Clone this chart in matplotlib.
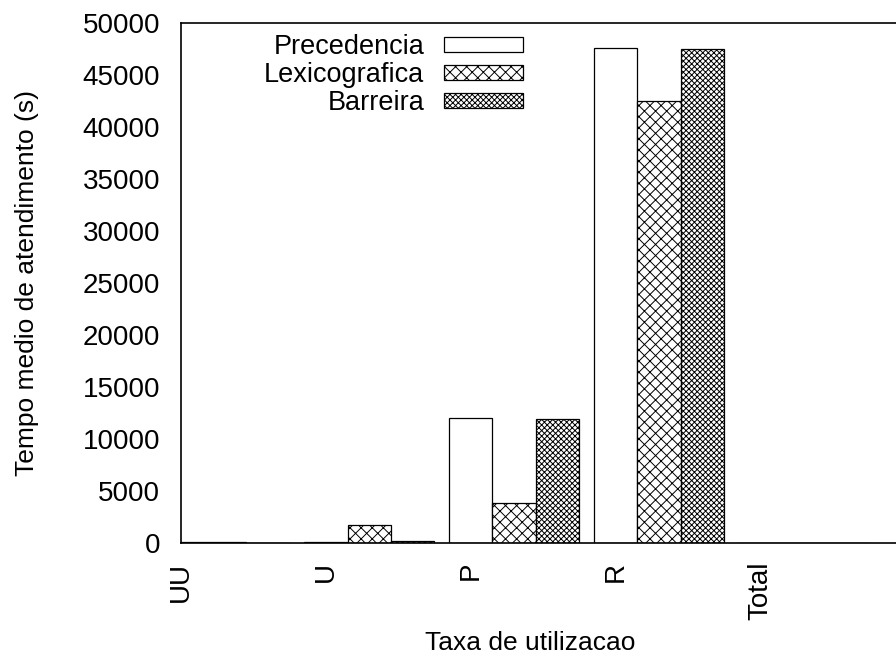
import matplotlib
matplotlib.use("Agg")
import matplotlib.pyplot as plt
import numpy as np

plt.rcParams['font.family'] = ['Liberation Sans', 'DejaVu Sans']
plt.rcParams['hatch.linewidth'] = 0.7

categories = ["UU", "U", "P", "R", "Total"]
series_names = ["Precedencia", "Lexicografica", "Barreira"]
precedencia = [50, 50, 12000, 47600, 0]
lexicografica = [80, 1700, 3800, 42500, 0]
barreira = [20, 220, 11900, 47500, 0]
series_values = [precedencia, lexicografica, barreira]
hatches = ["", "xxx", "xxxxxx"]

fig = plt.figure(figsize=(8.96, 6.64), dpi=100)
ax = fig.add_axes([181 / 896, 1 - 543 / 664, 1 - 181 / 896, (543 - 23) / 664])

x = np.arange(len(categories))
width = 0.3
for i, (name, vals, h) in enumerate(zip(series_names, series_values, hatches)):
    ax.bar(x + i * width, vals, width, label=name, facecolor="white",
           edgecolor="black", linewidth=0.9, hatch=h)

ax.set_xlim(0.007, 0.007 + 715 / 145)
ax.set_ylim(0, 50000)
ax.set_yticks(np.arange(0, 50001, 5000))
ax.set_xticks(x)
ax.set_xticklabels(categories, rotation=90)
ax.tick_params(axis="both", length=0, labelsize=20)
ax.tick_params(axis="y", pad=15)
ax.tick_params(axis="x", pad=13.5)
ax.spines["right"].set_visible(False)
for s in ["left", "bottom", "top"]:
    ax.spines[s].set_linewidth(1.2)

fig.text(530 / 896, 1 - 643 / 664, "Taxa de utilizacao", ha="center", va="center", fontsize=19)
fig.text(27 / 896, 1 - 283 / 664, "Tempo medio de atendimento (s)", ha="center", va="center",
         rotation=90, fontsize=19)

ax.legend(loc="upper right", bbox_to_anchor=(523 / 896, 1 - 34 / 664),
          bbox_transform=fig.transFigure, frameon=False, markerfirst=False,
          fontsize=19.5, handlelength=2.9, handleheight=0.5, handletextpad=0.75,
          labelspacing=0.08, borderpad=0, borderaxespad=0)

fig.savefig("out.png", dpi=100)
